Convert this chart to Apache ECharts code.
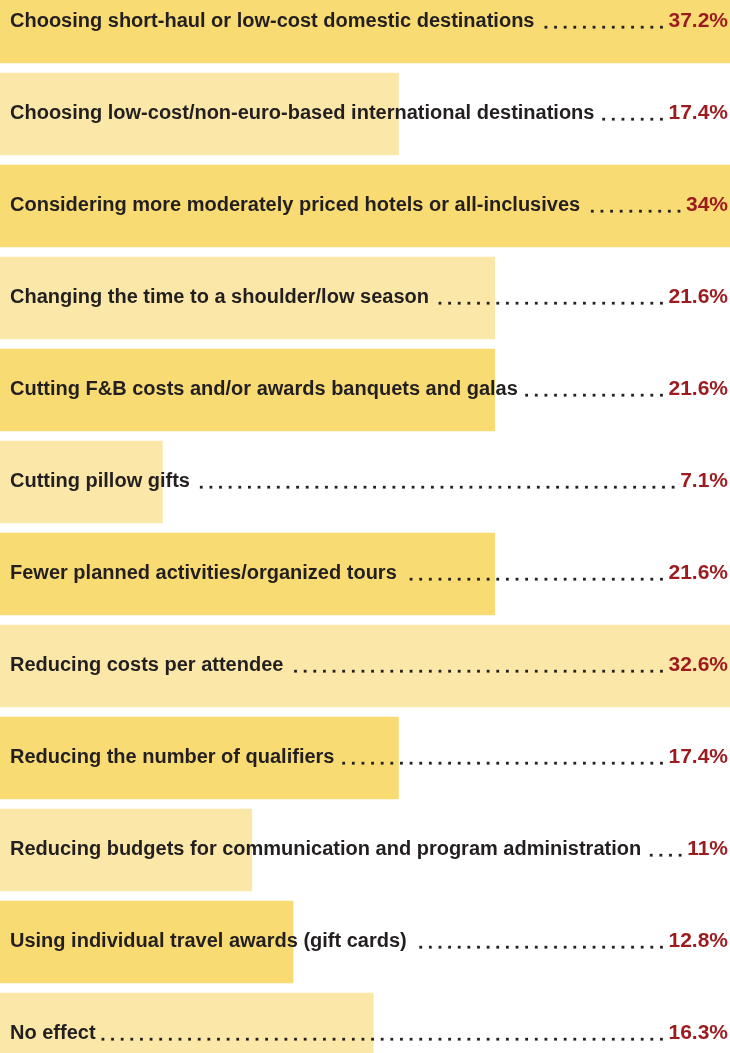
<!DOCTYPE html>
<html>
<head>
<meta charset="utf-8">
<script src="https://cdn.jsdelivr.net/npm/echarts@6/dist/echarts.min.js"></script>
<style>
  html, body { margin: 0; padding: 0; background: #ffffff; overflow: hidden; }
  #wrap { position: relative; width: 730px; height: 1053px; overflow: hidden; }
  /* the plot runs past the top and bottom edges of the frame */
  #chart { position: absolute; left: 0; top: -24.5px; width: 730px; height: 1104px; }
</style>
</head>
<body>
<div id="wrap"><div id="chart"></div></div>
<script>
// Ways travel programs are being adjusted (share of respondents, %)
const categories = [
  'Choosing short-haul or low-cost domestic destinations',
  'Choosing low-cost/non-euro-based international destinations',
  'Considering more moderately priced hotels or all-inclusives',
  'Changing the time to a shoulder/low season',
  'Cutting F&B costs and/or awards banquets and galas',
  'Cutting pillow gifts',
  'Fewer planned activities/organized tours',
  'Reducing costs per attendee',
  'Reducing the number of qualifiers',
  'Reducing budgets for communication and program administration',
  'Using individual travel awards (gift cards)',
  'No effect'
];
const values = [37.2, 17.4, 34, 21.6, 21.6, 7.1, 21.6, 32.6, 17.4, 11, 12.8, 16.3];
const barColors = ['#F8DC73', '#FBE8A9'];

const NAME_FONT = 'bold 20px "Liberation Sans", Arial, sans-serif';
const VALUE_FONT = 'bold 21px "Liberation Sans", Arial, sans-serif';
const TEXT_COLOR = '#231F20';
const VALUE_COLOR = '#9B1B1F';

const measureCtx = document.createElement('canvas').getContext('2d');
function textWidth(str, font) {
  measureCtx.font = font;
  return measureCtx.measureText(str).width;
}

const chart = echarts.init(document.getElementById('chart'), null, { renderer: 'canvas' });

const option = {
  animation: false,
  grid: { left: 0, right: 0, top: 0, bottom: 0, containLabel: false },
  xAxis: { type: 'value', min: 0, max: 31.85, show: false },
  yAxis: { type: 'category', data: categories, inverse: true, show: false },
  series: [
    {
      type: 'bar',
      z: 1,
      data: values.map((v, i) => ({ value: v, itemStyle: { color: barColors[i % 2] } })),
      barWidth: 82.5,
      clip: true,
      silent: true
    },
    {
      type: 'custom',
      z: 10,
      silent: true,
      clip: false,
      data: categories.map((c, i) => [0, i]),
      renderItem: function (params, api) {
        const idx = api.value(1);
        const pt = api.coord([0, idx]);
        const cy = pt[1] - 0.5;
        const rightEdge = params.coordSys.x + params.coordSys.width - 2;
        const name = categories[idx];
        const valueText = values[idx] + '%';
        const nameX = 10;
        const nameW = textWidth(name, NAME_FONT);
        const valW = textWidth(valueText, VALUE_FONT);
        const children = [
          {
            type: 'text',
            z2: 10,
            style: {
              text: name, x: nameX, y: cy, font: NAME_FONT,
              fill: TEXT_COLOR, textAlign: 'left', textVerticalAlign: 'middle'
            }
          },
          {
            type: 'text',
            z2: 10,
            style: {
              text: valueText, x: rightEdge, y: cy, font: VALUE_FONT,
              fill: VALUE_COLOR, textAlign: 'right', textVerticalAlign: 'middle'
            }
          }
        ];
        // dotted leader between the name and the value
        const pitch = 9.63;
        const start = nameX + nameW + 5;
        const end = rightEdge - valW - 7;
        const n = Math.floor((end - start) / pitch) + 1;
        for (let k = 0; k < n; k++) {
          const dx = end - k * pitch;
          children.push({
            type: 'rect',
            z2: 10,
            shape: { x: dx - 1.4, y: cy + 4.3, width: 2.8, height: 2.8 },
            style: { fill: TEXT_COLOR }
          });
        }
        return { type: 'group', children: children };
      }
    }
  ]
};

chart.setOption(option);
</script>
</body>
</html>
